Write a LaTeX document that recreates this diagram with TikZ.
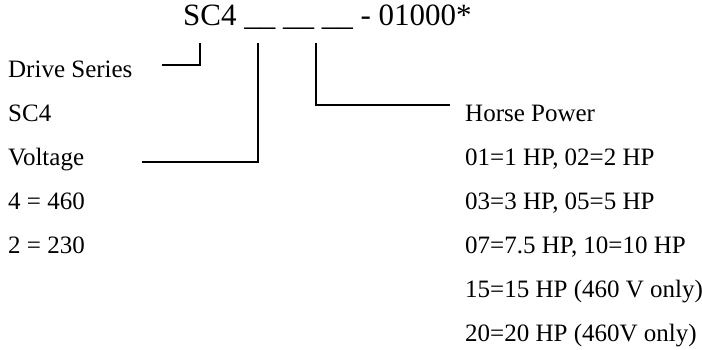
\documentclass[tikz,border=0pt]{standalone}
\usepackage{fontspec}
\setmainfont{Liberation Serif}
\usepackage{tikz}

\begin{document}
\begin{tikzpicture}[x=1pt, y=-1pt,
        every node/.style = {inner sep=0pt, anchor=base west, font=\fontsize{25}{25}\selectfont},
        title/.style = {font=\fontsize{31}{31}\selectfont},
        lead/.style = {line width=1.6pt}
    ]
        \useasboundingbox (0,0) rectangle (702,349);
        \node[title] (code) at (183,25) {SC4 \_\_ \_\_ \_\_ - 01000*};
        % left column
        \node (series) at (8,77) {Drive Series};
        \node (sc4) at (8,121) {SC4};
        \node (volt) at (8,165) {Voltage};
        \node (v460) at (8,209) {4 = 460};
        \node (v230) at (8,253) {2 = 230};
        % right column
        \node (hp) at (465,121) {Horse Power};
        \node (hp1) at (465,165) {01=1 HP, 02=2 HP};
        \node (hp2) at (465,209) {03=3 HP, 05=5 HP};
        \node (hp3) at (465,253) {07=7.5 HP, 10=10 HP};
        \node (hp4) at (465,297) {15=15 HP (460 V only)};
        \node (hp5) at (465,341) {20=20 HP (460V only)};
        % leaders
        \coordinate (seriesEnd) at (162,65);
        \coordinate (seriesTop) at (200,43);
        \coordinate (voltEnd) at (142,162);
        \coordinate (voltTop) at (258,43);
        \coordinate (hpEnd) at (450,105);
        \coordinate (hpTop) at (316,43);
        \draw[lead] (seriesEnd) -| (seriesTop);
        \draw[lead] (voltEnd) -| (voltTop);
        \draw[lead] (hpEnd) -| (hpTop);
    \end{tikzpicture}
\end{document}
